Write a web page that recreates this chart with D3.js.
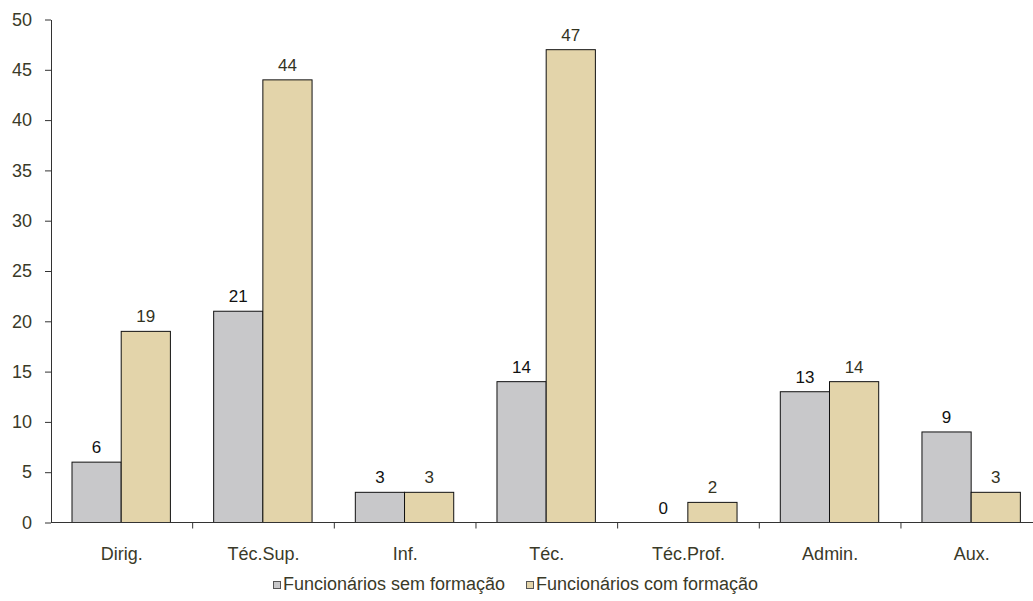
<!DOCTYPE html>
<html>
<head>
<meta charset="utf-8">
<script src="https://cdn.jsdelivr.net/npm/d3@7"></script>
<style>
  html, body { margin: 0; padding: 0; background: #fff; }
  svg { display: block; font-family: "Liberation Sans", Arial, sans-serif; }
</style>
</head>
<body>
<svg id="chart" width="1033" height="601"></svg>
<script>
// Staff by category, with and without training
const categories = ["Dirig.", "Téc.Sup.", "Inf.", "Téc.", "Téc.Prof.", "Admin.", "Aux."];
const semFormacao = [6, 21, 3, 14, 0, 13, 9];
const comFormacao = [19, 44, 3, 47, 2, 14, 3];
const seriesNames = ["Funcionários sem formação", "Funcionários com formação"];
const yTicks = [0, 5, 10, 15, 20, 25, 30, 35, 40, 45, 50];

const colors = ["#c8c8ca", "#e3d4aa"];
const labelColors = ["#111111", "#33331f"];
const tickColor = "#3a3a28";
const FONT = "Liberation Sans, Arial, sans-serif";

const svg = d3.select("#chart");
const m = { left: 51, top: 19.5, bottom: 522.5 };
const step = 141.66;
const plotRight = m.left + step * categories.length;

const x = d3.scaleBand().domain(categories).range([m.left, plotRight]);
const inner = d3.scaleBand().domain([0, 1]).range([21, 21 + 98.4]);
const y = d3.scaleLinear().domain([0, 50]).range([m.bottom, m.top]);

const series = [semFormacao, comFormacao];

// Bars and value labels
const groups = svg.append("g").selectAll("g")
  .data(categories).join("g")
  .attr("transform", d => `translate(${x(d)},0)`);

series.forEach((vals, si) => {
  groups.append("rect")
    .attr("x", inner(si))
    .attr("width", inner.bandwidth())
    .attr("y", (d, i) => y(vals[i]))
    .attr("height", (d, i) => y(0) - y(vals[i]))
    .attr("fill", colors[si])
    .attr("stroke", "#111")
    .attr("stroke-width", (d, i) => vals[i] === 0 ? 0 : 1);

  groups.append("text")
    .attr("x", inner(si) + inner.bandwidth() / 2)
    .attr("y", (d, i) => y(vals[i]) - 9)
    .attr("text-anchor", "middle")
    .attr("font-size", 17)
    .attr("fill", labelColors[si])
    .text((d, i) => vals[i]);
});

// Y axis
const yAxis = svg.append("g")
  .attr("transform", `translate(${m.left},0)`)
  .call(d3.axisLeft(y).tickValues(yTicks).tickSize(6).tickPadding(13).tickSizeOuter(0));
yAxis.attr("font-family", FONT).attr("font-size", 18);
yAxis.select(".domain").attr("stroke", "#333");
yAxis.selectAll(".tick line").attr("stroke", "#333");
yAxis.selectAll(".tick text").attr("fill", tickColor);

// X axis with ticks at the category boundaries
const boundaries = categories.map(c => x(c)).concat([plotRight]);
const xAxisG = svg.append("g");
xAxisG.append("line")
  .attr("x1", m.left).attr("x2", plotRight)
  .attr("y1", m.bottom).attr("y2", m.bottom)
  .attr("stroke", "#333");
xAxisG.selectAll("line.tk").data(boundaries.slice(1)).join("line")
  .attr("class", "tk")
  .attr("x1", d => d).attr("x2", d => d)
  .attr("y1", m.bottom).attr("y2", m.bottom + 6)
  .attr("stroke", "#333");
xAxisG.selectAll("text").data(categories).join("text")
  .attr("x", d => x(d) + x.bandwidth() / 2)
  .attr("y", 560)
  .attr("text-anchor", "middle")
  .attr("font-size", 18)
  .attr("fill", tickColor)
  .text(d => d);

// Legend
const legendX = [273, 526];
const legend = svg.append("g").selectAll("g")
  .data(seriesNames).join("g")
  .attr("transform", (d, i) => `translate(${legendX[i]},0)`);
legend.append("rect")
  .attr("x", 0.5).attr("y", 581.5)
  .attr("width", 7).attr("height", 7)
  .attr("fill", (d, i) => colors[i])
  .attr("stroke", "#555").attr("stroke-width", 1);
legend.append("text")
  .attr("x", 10).attr("y", 590)
  .attr("font-size", 18)
  .attr("fill", tickColor)
  .text(d => d);
</script>
</body>
</html>
